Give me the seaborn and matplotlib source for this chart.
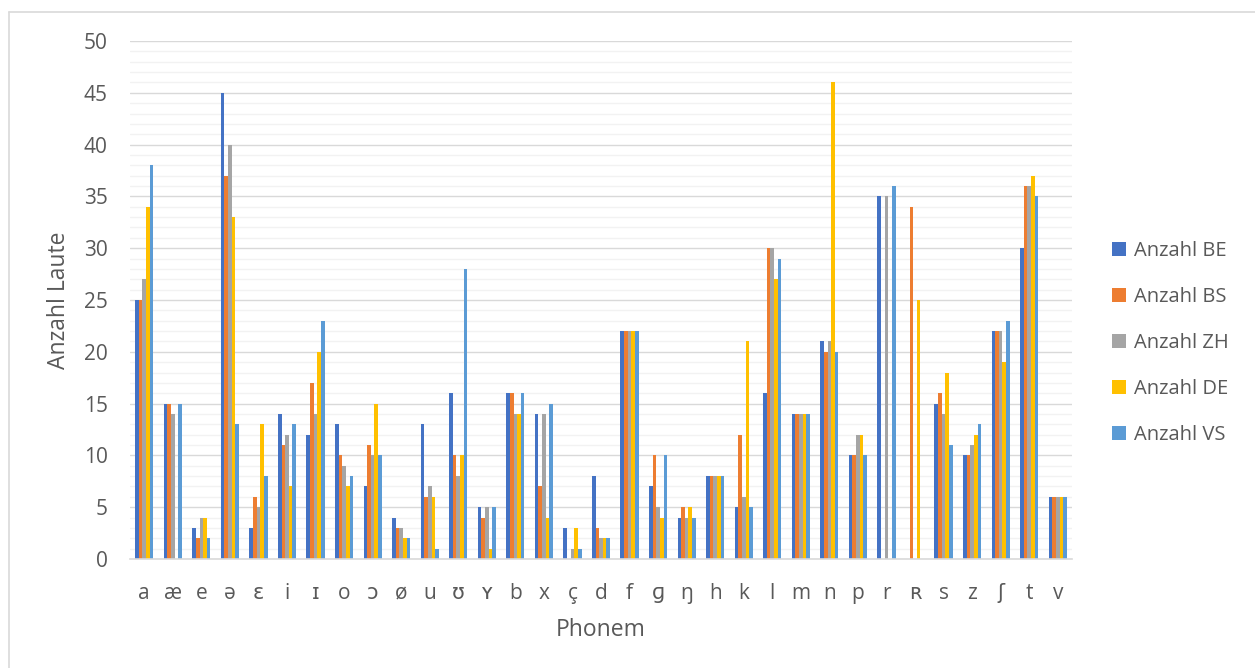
import matplotlib
matplotlib.use("Agg")
import matplotlib.pyplot as plt
import seaborn as sns
import pandas as pd
from matplotlib.patches import Patch
from matplotlib.lines import Line2D

phoneme = ["a", "æ", "e", "ə", "ɛ", "i", "ɪ", "o", "ɔ", "ø", "u", "ʊ", "ʏ", "b", "x", "ç", "d",
           "f", "ɡ", "ŋ", "h", "k", "l", "m", "n", "p", "r", "ʀ", "s", "z", "ʃ", "t", "v"]
anzahl_be = [25, 15, 3, 45, 3, 14, 12, 13, 7, 4, 13, 16, 5, 16, 14, 3, 8,
             22, 7, 4, 8, 5, 16, 14, 21, 10, 35, 0, 15, 10, 22, 30, 6]
anzahl_bs = [25, 15, 2, 37, 6, 11, 17, 10, 11, 3, 6, 10, 4, 16, 7, 0, 3,
             22, 10, 5, 8, 12, 30, 14, 20, 10, 0, 34, 16, 10, 22, 36, 6]
anzahl_zh = [27, 14, 4, 40, 5, 12, 14, 9, 10, 3, 7, 8, 5, 14, 14, 1, 2,
             22, 5, 4, 8, 6, 30, 14, 21, 12, 35, 0, 14, 11, 22, 36, 6]
anzahl_de = [34, 0, 4, 33, 13, 7, 20, 7, 15, 2, 6, 10, 1, 14, 4, 3, 2,
             22, 4, 5, 8, 21, 27, 14, 46, 12, 0, 25, 18, 12, 19, 37, 6]
anzahl_vs = [38, 15, 2, 13, 8, 13, 23, 8, 10, 2, 1, 28, 5, 16, 15, 1, 2,
             22, 10, 4, 8, 5, 29, 14, 20, 10, 36, 0, 11, 13, 23, 35, 6]
series_names = ["Anzahl BE", "Anzahl BS", "Anzahl ZH", "Anzahl DE", "Anzahl VS"]
colors = ["#4472C4", "#ED7D31", "#A5A5A5", "#FFC000", "#5B9BD5"]

series_values = [anzahl_be, anzahl_bs, anzahl_zh, anzahl_de, anzahl_vs]
rows = []
for name, vals in zip(series_names, series_values):
    for p, v in zip(phoneme, vals):
        rows.append({"Phonem": p, "Anzahl": v, "Serie": name})
df = pd.DataFrame(rows)

sns.set_theme(style="white")
plt.rcParams["font.family"] = ["Open Sans", "DejaVu Sans"]
text_color = "#595959"

fig = plt.figure(figsize=(12.55, 6.68), dpi=100)
ax = fig.add_axes([130 / 1255, 1 - 559 / 668, (1072 - 130) / 1255, (559 - 41) / 668])

# grid
for v in range(0, 51):
    if v % 5 == 0:
        ax.axhline(v, color="#D9D9D9", lw=1.0, zorder=0)
    else:
        ax.axhline(v, color="#F2F2F2", lw=1.0, zorder=0)

sns.barplot(data=df, x="Phonem", y="Anzahl", hue="Serie", order=phoneme,
            hue_order=series_names, palette=colors, width=0.64, saturation=1,
            ax=ax, legend=False, errorbar=None, edgecolor="none", zorder=2)

ax.set_ylim(0, 50)
ax.set_xlim(-0.5, len(phoneme) - 0.5)
ax.set_yticks(range(0, 51, 5))
for s in ["top", "right", "left"]:
    ax.spines[s].set_visible(False)
ax.spines["bottom"].set_color("#D9D9D9")
ax.spines["bottom"].set_linewidth(1.2)
ax.spines["bottom"].set_zorder(3)
ax.tick_params(axis="both", length=0, colors=text_color, labelsize=15)
ax.tick_params(axis="x", pad=17)
ax.tick_params(axis="y", pad=16)
ax.set_xlabel("Phonem", color=text_color, fontsize=16.5, labelpad=10)
ax.set_ylabel("Anzahl Laute", color=text_color, fontsize=16.5, labelpad=9)

handles = [Patch(facecolor=c, edgecolor="none") for c in colors]
fig.legend(handles, series_names, loc="center left", bbox_to_anchor=(1094 / 1255, 1 - 343 / 668),
           frameon=False, fontsize=14.5, labelcolor=text_color, handlelength=0.7,
           handleheight=0.7, handletextpad=0.4, labelspacing=1.3)

# chart frame
fig.add_artist(Line2D([9 / 1255, 9 / 1255], [0, 1 - 12 / 668], transform=fig.transFigure,
                      color="#D9D9D9", lw=1.2))
fig.add_artist(Line2D([9 / 1255, 1], [1 - 12 / 668, 1 - 12 / 668], transform=fig.transFigure,
                      color="#D9D9D9", lw=1.2))

fig.savefig("out.png", dpi=100, facecolor="white")
